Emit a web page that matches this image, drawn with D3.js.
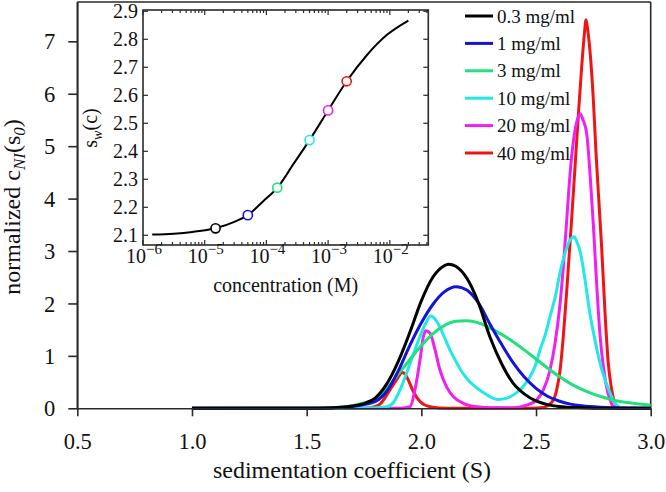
<!DOCTYPE html>
<html><head><meta charset="utf-8">
<script src="https://cdn.jsdelivr.net/npm/d3@7"></script>
<style>body{margin:0;background:#fff}</style>
</head><body>
<svg id="chart" width="666" height="492"></svg>
<script>
// ---------- data ----------
const seriesNames = ["0.3 mg/ml", "1 mg/ml", "3 mg/ml", "10 mg/ml", "20 mg/ml", "40 mg/ml"];
const seriesColors = ["#000000", "#1414d8", "#22e07c", "#22e8e8", "#f020f0", "#f01414"];

const curve03 = [[1.0,0],[1.5,0],[1.6,0.005],[1.65,0.02],[1.7,0.045],[1.75,0.09],[1.8,0.2],[1.85,0.47],[1.9,0.9],[1.95,1.45],[2.0,2.05],[2.05,2.5],[2.1,2.72],[2.118,2.75],[2.15,2.71],[2.2,2.47],[2.25,2.0],[2.3,1.35],[2.35,0.85],[2.4,0.48],[2.45,0.27],[2.5,0.14],[2.55,0.07],[2.6,0.035],[2.7,0.01],[2.8,0],[3.0,0]];
const curve1 = [[1.0,0],[1.5,0],[1.6,0.008],[1.7,0.035],[1.75,0.07],[1.8,0.13],[1.85,0.33],[1.9,0.72],[1.95,1.2],[2.0,1.63],[2.05,1.98],[2.1,2.22],[2.151,2.32],[2.2,2.25],[2.25,2.0],[2.3,1.6],[2.35,1.22],[2.4,0.87],[2.45,0.59],[2.5,0.38],[2.55,0.23],[2.6,0.14],[2.65,0.08],[2.7,0.047],[2.78,0.02],[2.85,0.01],[3.0,0]];
const curve3 = [[1.0,0],[1.6,0.01],[1.7,0.05],[1.75,0.1],[1.8,0.18],[1.85,0.38],[1.9,0.66],[1.95,0.93],[2.0,1.2],[2.05,1.42],[2.1,1.58],[2.15,1.66],[2.195,1.67],[2.25,1.63],[2.3,1.53],[2.35,1.41],[2.4,1.27],[2.45,1.11],[2.5,0.94],[2.55,0.77],[2.6,0.61],[2.65,0.47],[2.7,0.36],[2.75,0.27],[2.8,0.2],[2.85,0.145],[2.9,0.11],[2.95,0.08],[3.0,0.06]];
const curve10 = [[1.0,0],[1.7,0],[1.8,0.01],[1.85,0.03],[1.88,0.12],[1.907,0.35],[1.93,0.6],[1.951,0.86],[1.975,1.15],[1.994,1.37],[2.02,1.63],[2.041,1.76],[2.06,1.7],[2.081,1.55],[2.1,1.36],[2.125,1.11],[2.15,0.9],[2.169,0.75],[2.2,0.56],[2.227,0.44],[2.26,0.33],[2.285,0.26],[2.31,0.2],[2.333,0.17],[2.36,0.18],[2.387,0.22],[2.41,0.28],[2.43,0.35],[2.45,0.45],[2.474,0.6],[2.5,0.85],[2.517,1.11],[2.54,1.4],[2.561,1.75],[2.585,2.15],[2.605,2.6],[2.626,2.95],[2.645,3.18],[2.666,3.27],[2.68,3.15],[2.692,3.0],[2.705,2.7],[2.714,2.44],[2.735,1.81],[2.757,1.3],[2.779,0.86],[2.801,0.54],[2.823,0.29],[2.844,0.1],[2.866,0.02],[2.9,0],[3.0,0]];
const curve20 = [[1.0,0],[1.9,0],[1.951,0.03],[1.972,0.35],[1.994,0.92],[2.009,1.37],[2.019,1.48],[2.038,1.43],[2.06,1.11],[2.081,0.73],[2.11,0.41],[2.14,0.22],[2.183,0.095],[2.241,0.03],[2.314,0.01],[2.4,0.01],[2.459,0.06],[2.503,0.16],[2.532,0.35],[2.561,0.73],[2.583,1.24],[2.605,2.0],[2.619,2.7],[2.634,3.6],[2.648,4.45],[2.663,5.1],[2.68,5.5],[2.692,5.62],[2.705,5.5],[2.721,5.24],[2.735,4.5],[2.75,3.5],[2.764,2.4],[2.779,1.4],[2.794,0.78],[2.808,0.4],[2.823,0.16],[2.837,0.03],[2.86,0],[3.0,0]];
const curve40 = [[1.0,0],[1.75,0],[1.796,0.03],[1.82,0.08],[1.863,0.35],[1.9,0.6],[1.915,0.69],[1.93,0.65],[1.943,0.54],[1.965,0.32],[1.994,0.13],[2.038,0.03],[2.11,0],[2.45,0],[2.52,0.01],[2.546,0.04],[2.576,0.16],[2.59,0.35],[2.605,0.73],[2.619,1.37],[2.634,2.25],[2.645,2.95],[2.656,3.65],[2.67,4.6],[2.684,5.56],[2.699,6.51],[2.71,7.1],[2.718,7.41],[2.726,7.2],[2.735,6.83],[2.75,5.88],[2.761,4.92],[2.772,4.1],[2.786,3.08],[2.801,1.81],[2.815,0.86],[2.83,0.35],[2.844,0.095],[2.859,0.01],[2.9,0],[3.0,0]];
const seriesData = [curve03, curve1, curve3, curve10, curve20, curve40];

const xTicks = [0.5, 1.0, 1.5, 2.0, 2.5, 3.0];
const yTicks = [0, 1, 2, 3, 4, 5, 6, 7];

// inset: weight-average s vs molar concentration
const insetConc = [1.41e-6, 3.16e-6, 6.3e-6, 1.48e-5, 3.16e-5, 5.0e-5, 8.9e-5, 1.51e-4, 2.75e-4, 5.0e-4, 1.0e-3, 2.0e-3, 4.27e-3, 8.9e-3, 2.0e-2];
const insetSw   = [2.103, 2.106, 2.112, 2.125, 2.150, 2.172, 2.222, 2.270, 2.355, 2.440, 2.546, 2.650, 2.744, 2.815, 2.867];
const markerConc = [1.5e-5, 5e-5, 1.5e-4, 5e-4, 1e-3, 2e-3];
const markerSw   = [2.125, 2.172, 2.270, 2.440, 2.546, 2.650];
const insetYTicks = [2.1, 2.2, 2.3, 2.4, 2.5, 2.6, 2.7, 2.8, 2.9];
const insetXExps = [-6, -5, -4, -3, -2];

// ---------- drawing ----------
const FONT = "Liberation Serif";
const AX = "#2a2a2a";
const svg = d3.select("#chart");

const x = d3.scaleLinear().domain([0.5, 3.0]).range([77.3, 650.7]);
const y = d3.scaleLinear().domain([0, 7.75]).range([408.3, 2]);

// frame top/right/left
svg.append("line").attr("x1", x(0.5)).attr("x2", x(3.0)).attr("y1", y(7.75)).attr("y2", y(7.75))
  .attr("stroke", AX).attr("stroke-width", 1.6);
svg.append("line").attr("x1", x(3.0)).attr("x2", x(3.0)).attr("y1", y(7.75)).attr("y2", y(0))
  .attr("stroke", AX).attr("stroke-width", 1.6);
svg.append("line").attr("x1", x(0.5)).attr("x2", x(0.5)).attr("y1", y(7.75)).attr("y2", y(0))
  .attr("stroke", AX).attr("stroke-width", 1.6);

// curves (drawn from last series to first, so black ends on top)
const line = d3.line().x(d => x(d[0])).y(d => y(d[1])).curve(d3.curveMonotoneX);
for (let i = seriesData.length - 1; i >= 0; i--) {
  svg.append("path").datum(seriesData[i]).attr("d", line)
    .attr("fill", "none").attr("stroke", seriesColors[i]).attr("stroke-width", 3)
    .attr("stroke-linejoin", "round");
}

// axes
const xAxis = svg.append("g").attr("transform", `translate(0,${y(0)})`)
  .call(d3.axisBottom(x).tickValues(xTicks).tickFormat(d3.format(".1f")).tickSize(8).tickSizeOuter(0));
const yAxis = svg.append("g").attr("transform", `translate(${x(0.5)},0)`)
  .call(d3.axisLeft(y).tickValues(yTicks).tickFormat(d3.format("d")).tickSize(9).tickSizeOuter(0));
[xAxis, yAxis].forEach(g => {
  g.attr("font-family", FONT);
  g.select(".domain").attr("stroke", AX).attr("stroke-width", 1.6);
  g.selectAll(".tick line").attr("stroke", AX).attr("stroke-width", 1.6);
  g.selectAll("text").attr("font-family", FONT).attr("font-size", 22.5).attr("fill", "#111");
});
xAxis.selectAll("text").attr("y", 41).attr("dy", 0);
yAxis.selectAll("text").attr("x", -22).attr("dy", "0.34em");

// axis titles
svg.append("text").attr("font-family", FONT).attr("x", 352).attr("y", 478)
  .attr("text-anchor", "middle").attr("font-size", 24).attr("fill", "#111")
  .text("sedimentation coefficient (S)");
const yt = svg.append("text").attr("font-family", FONT).attr("transform", "rotate(-90)")
  .attr("x", -207).attr("y", 20).attr("text-anchor", "middle")
  .attr("font-size", 24).attr("fill", "#111");
yt.append("tspan").text("normalized c");
yt.append("tspan").attr("font-style", "italic").attr("font-size", 17).attr("dy", 5).text("NI");
yt.append("tspan").attr("dy", -5).text("(s");
yt.append("tspan").attr("font-style", "italic").attr("font-size", 17).attr("dy", 5).text("0");
yt.append("tspan").attr("dy", -5).text(")");

// legend
const legend = svg.append("g");
seriesNames.forEach((name, i) => {
  const ly = 16 + i * 27.4;
  legend.append("line").attr("x1", 465).attr("x2", 493).attr("y1", ly).attr("y2", ly)
    .attr("stroke", seriesColors[i]).attr("stroke-width", 3);
  legend.append("text").attr("font-family", FONT).attr("x", 497).attr("y", ly + 6.5)
    .attr("font-size", 19).attr("fill", "#111").text(name);
});

// ---------- inset ----------
const xi = d3.scaleLog().domain([1e-6, Math.pow(10, -1.376)]).range([143, 428.3]);
const yi = d3.scaleLinear().domain([2.0654, 2.9046]).range([245, 10]);
const inset = svg.append("g");
inset.append("rect").attr("x", xi.range()[0]).attr("y", yi.range()[1])
  .attr("width", xi.range()[1] - xi.range()[0]).attr("height", yi.range()[0] - yi.range()[1])
  .attr("fill", "#fff").attr("stroke", "none");

// ticks (inward)
const insetTicks = inset.append("g").attr("stroke", AX).attr("stroke-width", 1.2);
insetYTicks.forEach(v => {
  insetTicks.append("line").attr("x1", xi.range()[0]).attr("x2", xi.range()[0] + 5).attr("y1", yi(v)).attr("y2", yi(v));
  insetTicks.append("line").attr("x1", xi.range()[1]).attr("x2", xi.range()[1] - 5).attr("y1", yi(v)).attr("y2", yi(v));
});
const xMajor = insetXExps.map(e => Math.pow(10, e));
const xMinor = [];
for (let e = -6; e <= -2; e++) for (let k = 2; k <= 9; k++) {
  const v = k * Math.pow(10, e);
  if (v < xi.domain()[1]) xMinor.push(v);
}
xMajor.forEach(v => {
  insetTicks.append("line").attr("x1", xi(v)).attr("x2", xi(v)).attr("y1", yi.range()[0]).attr("y2", yi.range()[0] - 5);
  insetTicks.append("line").attr("x1", xi(v)).attr("x2", xi(v)).attr("y1", yi.range()[1]).attr("y2", yi.range()[1] + 5);
});
xMinor.forEach(v => {
  insetTicks.append("line").attr("x1", xi(v)).attr("x2", xi(v)).attr("y1", yi.range()[0]).attr("y2", yi.range()[0] - 3);
  insetTicks.append("line").attr("x1", xi(v)).attr("x2", xi(v)).attr("y1", yi.range()[1]).attr("y2", yi.range()[1] + 3);
});
inset.append("rect").attr("x", xi.range()[0]).attr("y", yi.range()[1])
  .attr("width", xi.range()[1] - xi.range()[0]).attr("height", yi.range()[0] - yi.range()[1])
  .attr("fill", "none").attr("stroke", AX).attr("stroke-width", 1.6);

// inset tick labels
insetYTicks.forEach(v => {
  inset.append("text").attr("font-family", FONT).attr("x", xi.range()[0] - 5).attr("y", yi(v)).attr("dy", "0.34em")
    .attr("text-anchor", "end").attr("font-size", 20).attr("fill", "#111").text(v.toFixed(1));
});
insetXExps.forEach(e => {
  const t = inset.append("text").attr("font-family", FONT).attr("x", xi(Math.pow(10, e)) + 1).attr("y", 263)
    .attr("text-anchor", "middle").attr("font-size", 20).attr("fill", "#111");
  t.append("tspan").text("10");
  t.append("tspan").attr("font-size", 15).attr("dy", -9).text("\u2212" + Math.abs(e));
});
inset.append("text").attr("font-family", FONT).attr("x", (xi.range()[0] + xi.range()[1]) / 2).attr("y", 292)
  .attr("text-anchor", "middle").attr("font-size", 20).attr("fill", "#111").text("concentration (M)");
const iyt = inset.append("text").attr("font-family", FONT).attr("transform", "rotate(-90)")
  .attr("x", -128).attr("y", 97).attr("text-anchor", "middle").attr("font-size", 20).attr("fill", "#111");
iyt.append("tspan").text("s");
iyt.append("tspan").attr("font-style", "italic").attr("font-size", 14).attr("dy", 5).text("w");
iyt.append("tspan").attr("dy", -5).text("(c)");

// inset curve and markers
const iline = d3.line().x((d, i) => xi(insetConc[i])).y((d, i) => yi(insetSw[i])).curve(d3.curveMonotoneX);
inset.append("path").datum(insetConc).attr("d", iline).attr("fill", "none")
  .attr("stroke", "#000").attr("stroke-width", 2);
markerConc.forEach((c, i) => {
  inset.append("circle").attr("cx", xi(c)).attr("cy", yi(markerSw[i])).attr("r", 4.6)
    .attr("fill", "#fff").attr("stroke", seriesColors[i]).attr("stroke-width", 1.6);
});
</script>
</body></html>
